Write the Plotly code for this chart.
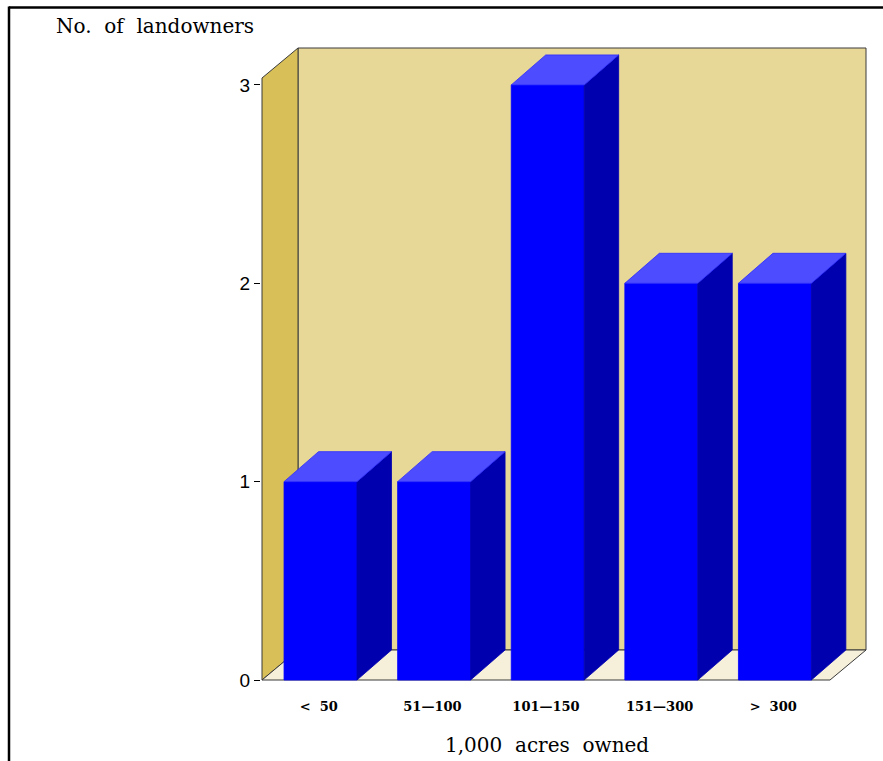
import plotly.graph_objects as go

# Data
categories = ["<\u00a0 50", "51\u2014100", "101\u2014150", "151\u2014300", ">\u00a0 300"]
landowners = [1, 1, 3, 2, 2]
y_tick_values = [0, 1, 2, 3]
y_title = "No.\u00a0 of\u00a0 landowners"
x_title = "1,000\u00a0 acres\u00a0 owned"

# Figure geometry (pixels)
W, H = 883, 761
PLOT_L, PLOT_R, PLOT_T, PLOT_B = 261, 867, 47, 681
SX = 113.6          # pixels per category
SY = 198.33         # pixels per landowner
PAD_X = 1 / SX
PAD_Y = 1 / SY

# 3-D look, in data units
DEPTH_X = 36 / SX
DEPTH_Y = 30 / SY
BAR_DEPTH_X = 34.5 / SX
BAR_DEPTH_Y = 30 / SY
WALL_TOP = 3.035
BAR_HALF = 0.321
BAR_SHIFT = 0.015

# Colours
BACK_WALL = "#E8D898"
SIDE_WALL = "#D9BF58"
FLOOR = "#F6EFDA"
EDGE = "#3a3a3a"
BAR_FRONT = "#0000FF"
BAR_SIDE = "#0000AE"
BAR_TOP = "#4D4DFF"

X0, X1 = -0.5, len(categories) - 0.5


def poly(xs, ys, fill, line_color, width=1.0):
    return go.Scatter(
        x=list(xs) + [xs[0]], y=list(ys) + [ys[0]],
        mode="lines", fill="toself", fillcolor=fill,
        line=dict(color=line_color, width=width),
        hoverinfo="skip", showlegend=False,
    )


fig = go.Figure()

# Back wall, side wall and floor
fig.add_trace(poly([X0 + DEPTH_X, X1 + DEPTH_X, X1 + DEPTH_X, X0 + DEPTH_X],
                   [DEPTH_Y, DEPTH_Y, WALL_TOP + DEPTH_Y, WALL_TOP + DEPTH_Y],
                   BACK_WALL, EDGE))
fig.add_trace(poly([X0, X0 + DEPTH_X, X0 + DEPTH_X, X0],
                   [0, DEPTH_Y, WALL_TOP + DEPTH_Y, WALL_TOP],
                   SIDE_WALL, EDGE))
fig.add_trace(poly([X0, X1, X1 + DEPTH_X, X0 + DEPTH_X],
                   [0, 0, DEPTH_Y, DEPTH_Y],
                   FLOOR, EDGE))

# Bars: front, side, top faces
for i, v in enumerate(landowners):
    left = i + BAR_SHIFT - BAR_HALF
    right = i + BAR_SHIFT + BAR_HALF
    fig.add_trace(poly([left, right, right, left], [0, 0, v, v],
                       BAR_FRONT, BAR_FRONT, 0.8))
    fig.add_trace(poly([right, right + BAR_DEPTH_X, right + BAR_DEPTH_X, right],
                       [0, BAR_DEPTH_Y, v + BAR_DEPTH_Y, v],
                       BAR_SIDE, BAR_SIDE, 0.8))
    fig.add_trace(poly([left, right, right + BAR_DEPTH_X, left + BAR_DEPTH_X],
                       [v, v, v + BAR_DEPTH_Y, v + BAR_DEPTH_Y],
                       BAR_TOP, "#2a2aff", 0.8))


def paper_x(px):
    return (px - PLOT_L) / (PLOT_R - PLOT_L)


def paper_y(py):
    return (PLOT_B - py) / (PLOT_B - PLOT_T)


fig.update_layout(
    width=W, height=H,
    margin=dict(l=PLOT_L, r=W - PLOT_R, t=PLOT_T, b=H - PLOT_B, pad=0),
    paper_bgcolor="white", plot_bgcolor="white",
    showlegend=False,
    xaxis=dict(
        range=[X0 - PAD_X, X1 + DEPTH_X + PAD_X],
        tickmode="array", tickvals=list(range(len(categories))),
        ticktext=categories, ticks="", showgrid=False, zeroline=False,
        showline=False, ticklabelstandoff=16,
        tickfont=dict(family="DejaVu Serif", size=13, color="black", weight="bold"),
        fixedrange=True,
    ),
    yaxis=dict(
        range=[0 - PAD_Y, WALL_TOP + DEPTH_Y + PAD_Y],
        tickmode="array", tickvals=y_tick_values,
        ticktext=[str(t) for t in y_tick_values],
        ticks="outside", ticklen=6, tickwidth=1, tickcolor="black",
        showgrid=False, zeroline=False, showline=False,
        tickfont=dict(family="Liberation Sans", size=19, color="black"),
        fixedrange=True,
    ),
    annotations=[
        dict(text=y_title, xref="paper", yref="paper",
             x=paper_x(256), y=paper_y(26), xanchor="right", yanchor="middle",
             showarrow=False,
             font=dict(family="DejaVu Serif", size=20, color="black")),
        dict(text=x_title, xref="paper", yref="paper",
             x=paper_x(547), y=paper_y(745), xanchor="center", yanchor="middle",
             showarrow=False,
             font=dict(family="DejaVu Serif", size=20, color="black")),
    ],
    shapes=[
        dict(type="line", xref="paper", yref="paper",
             x0=paper_x(9), x1=paper_x(W + 5), y0=paper_y(7.5), y1=paper_y(7.5),
             line=dict(color="black", width=2.5)),
        dict(type="line", xref="paper", yref="paper",
             x0=paper_x(9), x1=paper_x(9), y0=paper_y(6.5), y1=paper_y(H + 5),
             line=dict(color="black", width=2.5)),
    ],
)

fig.write_html("out.html", config={"displayModeBar": False})
